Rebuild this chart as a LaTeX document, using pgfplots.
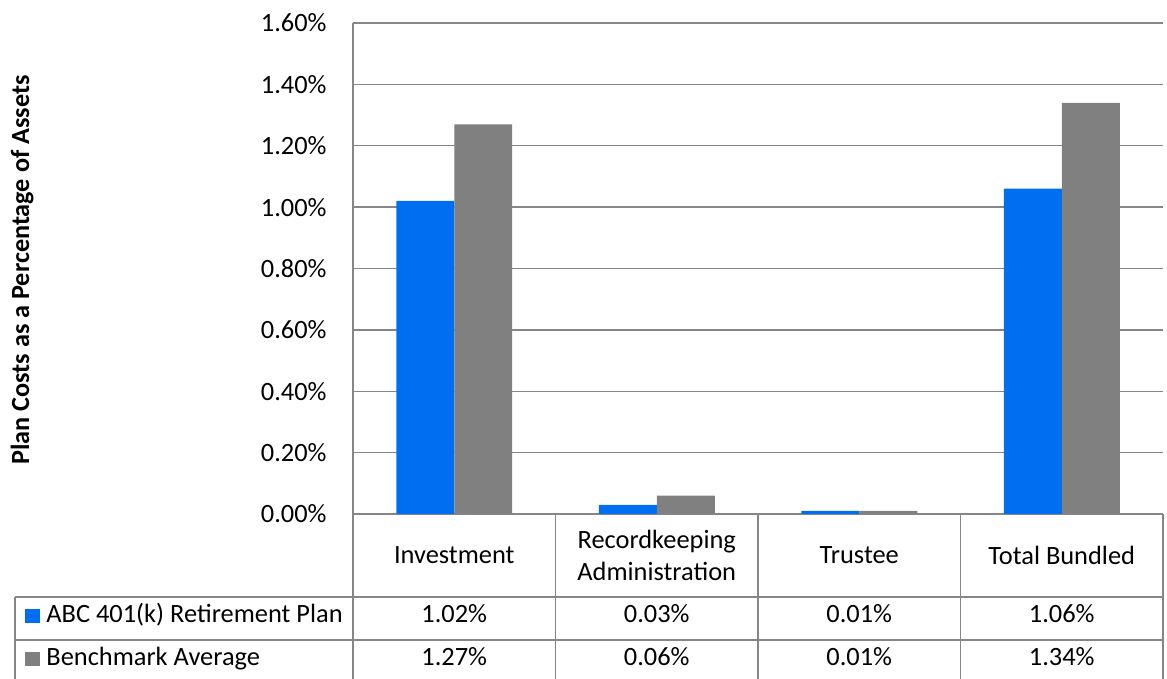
\documentclass[border=0pt]{standalone}
\usepackage{fontspec}
\setmainfont{Carlito}
\usepackage{pgfplots}
\usepackage{pgfplotstable}
\pgfplotsset{compat=1.18}
\definecolor{abcblue}{RGB}{0,110,240}
\definecolor{benchgray}{RGB}{128,128,128}
\definecolor{linegray}{RGB}{134,134,134}

\pgfplotstableread{
x abc bench
0 1.02 1.27
1 0.03 0.06
2 0.01 0.01
3 1.06 1.34
}\costdata

\begin{document}
\begin{tikzpicture}[font=\fontsize{13.2pt}{15.6pt}\selectfont]
\useasboundingbox (0,0) rectangle (583.5pt,339.5pt);
\begin{axis}[
  at={(176.5pt,82.5pt)}, anchor=south west,
  scale only axis, width=405pt, height=245.5pt,
  xmin=-0.5, xmax=3.5, ymin=0, ymax=1.6,
  ytick={0,0.2,0.4,0.6,0.8,1.0,1.2,1.4,1.6},
  ymajorgrids, grid style={linegray, line width=0.7pt},
  axis lines*=left,
  axis line style={linegray, line width=0.7pt},
  major tick length=0pt,
  clip=false,
  /pgf/number format/assume math mode=true,
  yticklabel={\pgfmathprintnumber[fixed,fixed zerofill,precision=2]{\tick}\%},
  yticklabel style={anchor=east, inner sep=0pt, xshift=-13pt},
  xtick={0,1,2,3},
  xticklabels={Investment,{Recordkeeping\\Administration},Trustee,Total Bundled},
  xticklabel style={anchor=center, align=center, inner sep=0pt, yshift=-20.75pt},
  ylabel={Plan Costs as a Percentage of Assets},
  ylabel style={font=\fontsize{13.1pt}{15.6pt}\selectfont\bfseries, at={(rel axis cs:-0.4086,0.497)}, anchor=center, rotate=0},
]
\addplot[ybar, bar width=0.2864, bar shift=-0.1432, fill=abcblue, draw=none] table[x=x,y=abc]{\costdata};
\addplot[ybar, bar width=0.2864, bar shift=0.1432, fill=benchgray, draw=none] table[x=x,y=bench]{\costdata};
\addplot[draw=none, mark=none, point meta=\thisrow{abc},
  nodes near coords={\pgfmathprintnumber[fixed,fixed zerofill,precision=2]{\pgfplotspointmeta}\%},
  nodes near coords style={anchor=base, inner sep=0pt}]
  table[x=x, y expr=-0.3552]{\costdata};
\addplot[draw=none, mark=none, point meta=\thisrow{bench},
  nodes near coords={\pgfmathprintnumber[fixed,fixed zerofill,precision=2]{\pgfplotspointmeta}\%},
  nodes near coords style={anchor=base, inner sep=0pt}]
  table[x=x, y expr=-0.4953]{\costdata};
\begin{scope}[linegray, line width=0.7pt]
\draw (axis cs:-2.169,-0.2705) -- (axis cs:3.5,-0.2705);
\draw (axis cs:-2.169,-0.4106) -- (axis cs:3.5,-0.4106);
\draw (axis cs:-2.169,-0.2705) -- (axis cs:-2.169,-0.5377);
\draw (axis cs:-0.5,0) -- (axis cs:-0.5,-0.5377);
\draw (axis cs:0.5,0) -- (axis cs:0.5,-0.5377);
\draw (axis cs:1.5,0) -- (axis cs:1.5,-0.5377);
\draw (axis cs:2.5,0) -- (axis cs:2.5,-0.5377);
\draw (axis cs:3.5,0) -- (axis cs:3.5,-0.5377);
\end{scope}
\node[anchor=base west, inner sep=0pt] at (axis cs:-2.1198,-0.3552)
  {\textcolor{abcblue}{\rule{7.5pt}{7pt}}\hspace{3pt}ABC 401(k) Retirement Plan};
\node[anchor=base west, inner sep=0pt] at (axis cs:-2.1198,-0.4953)
  {\textcolor{benchgray}{\rule{7.5pt}{7pt}}\hspace{3pt}Benchmark Average};
\end{axis}
\end{tikzpicture}
\end{document}
